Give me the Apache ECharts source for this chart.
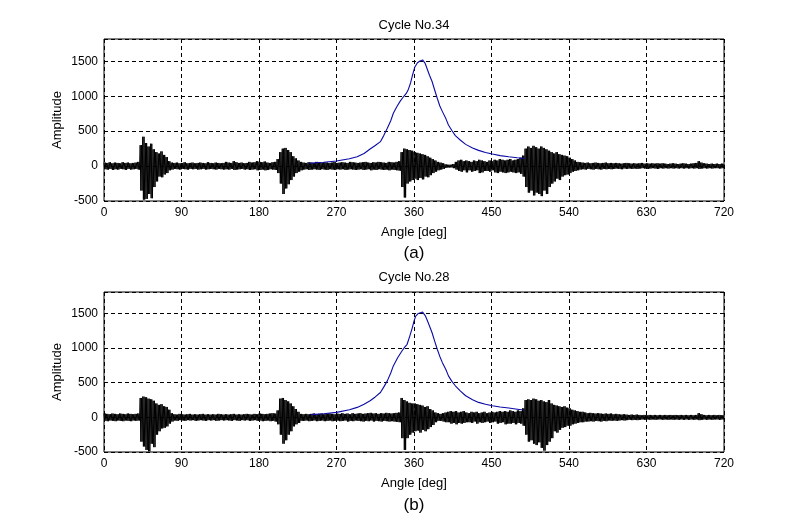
<!DOCTYPE html>
<html>
<head>
<meta charset="utf-8">
<script src="https://cdn.jsdelivr.net/npm/echarts@6/dist/echarts.min.js"></script>
<style>html,body{margin:0;padding:0;background:#fff}#c{width:800px;height:530px}</style>
</head>
<body>
<div id="c"></div>
<script>
// Angle step (deg) between envelope samples of the vibration signal
const STEP = 3;
const xTicks = [0, 90, 180, 270, 360, 450, 540, 630, 720];
const yTicks = [-500, 0, 500, 1000, 1500];
const titles = ['Cycle No.34', 'Cycle No.28'];
const panelLabels = ['(a)', '(b)'];

// Panel (a): vibration signal envelope (upper / lower) every 3 deg from 0 to 720
const upperA = [50,45,55,40,50,45,40,55,45,50,40,45,50,60,
  300,420,330,280,320,240,200,180,210,160,130,70,50,
  45,50,40,45,55,40,45,50,40,45,50,45,40,55,45,40,50,45,40,45,60,50,45,70,55,45,50,40,45,60,50,55,70,60,55,65,50,45,55,60,
  100,200,250,260,230,200,140,110,80,60,
  50,45,55,50,45,60,50,45,55,50,45,50,60,45,50,55,50,45,60,55,50,45,50,55,60,50,45,55,50,60,55,50,45,60,55,50,60,70,
  200,250,240,230,220,200,190,180,170,160,140,120,100,80,60,50,40,25,20,20,30,60,80,90,70,80,70,60,80,70,90,80,70,60,80,70,90,80,100,90,80,90,100,80,90,100,120,150,
  250,280,260,290,270,250,280,260,240,220,200,180,200,170,160,150,140,120,100,80,60,55,
  50,45,50,40,45,50,45,40,45,50,40,45,40,45,40,35,40,45,40,35,40,35,40,45,35,40,35,40,35,40,35,40,35,30,35,40,35,30,35,40,35,30,35,40,45,70,50,40,35,30,35,30,35,30,35,30];
const lowerA = [-45,-50,-40,-55,-45,-50,-40,-45,-55,-40,-50,-45,-40,-50,
  -350,-480,-470,-400,-460,-300,-220,-150,-160,-120,-100,-60,-50,
  -40,-45,-50,-40,-45,-50,-40,-45,-40,-50,-45,-40,-50,-45,-40,-45,-50,-40,-45,-50,-45,-50,-40,-55,-50,-45,-40,-50,-45,-55,-50,-45,-60,-55,-50,-60,-55,-45,-50,-55,
  -100,-250,-400,-320,-260,-200,-150,-100,-80,-60,
  -50,-45,-55,-50,-45,-50,-55,-45,-50,-55,-45,-50,-55,-45,-50,-45,-55,-50,-45,-50,-55,-50,-45,-55,-50,-45,-60,-50,-55,-45,-50,-55,-50,-60,-50,-55,-60,-65,
  -300,-450,-250,-220,-200,-180,-200,-170,-190,-150,-160,-130,-100,-80,-60,-50,-40,-25,-20,-20,-30,-50,-70,-80,-60,-90,-60,-80,-70,-60,-100,-90,-70,-70,-80,-60,-90,-100,-80,-90,-100,-90,-80,-90,-100,-90,-110,-150,
  -300,-380,-350,-420,-380,-400,-430,-350,-400,-300,-250,-220,-180,-200,-150,-130,-120,-100,-80,-70,-60,-50,
  -45,-50,-40,-45,-50,-40,-45,-50,-40,-45,-40,-45,-40,-35,-40,-45,-35,-40,-35,-40,-35,-40,-35,-30,-35,-40,-35,-30,-35,-40,-30,-35,-30,-35,-30,-35,-30,-35,-30,-35,-30,-35,-30,-35,-30,-40,-35,-30,-35,-30,-35,-30,-30,-35,-30,-35];

// Panel (b): vibration signal envelope
const upperB = [55,50,45,55,50,45,55,50,45,55,50,45,50,55,
  280,300,290,270,260,240,200,180,190,160,150,110,60,
  45,40,50,45,40,45,50,40,45,40,45,50,40,45,40,45,40,50,45,40,45,40,45,50,40,45,40,45,50,45,40,50,45,55,50,45,50,55,60,55,
  100,270,280,250,230,200,160,120,80,50,
  45,50,45,50,55,45,50,55,45,50,55,50,45,55,50,60,50,55,45,60,50,55,60,50,55,60,65,55,60,50,60,55,65,60,55,60,65,70,
  280,250,230,210,200,200,190,180,170,150,160,120,100,70,60,50,60,70,80,90,80,90,70,80,90,70,60,80,70,80,60,70,80,60,70,80,70,80,90,80,90,80,100,90,80,100,90,130,
  250,260,250,270,260,240,250,230,220,250,200,180,170,160,150,160,140,130,110,100,90,80,
  80,70,60,65,60,55,60,55,50,55,50,55,45,50,45,40,45,40,35,40,35,40,35,30,35,30,35,30,35,30,35,30,35,30,35,30,35,30,35,30,35,30,35,30,35,60,45,35,30,35,30,35,30,35,30,35];
const lowerB = [-50,-55,-45,-50,-55,-45,-50,-55,-45,-50,-55,-45,-50,-45,
  -350,-420,-470,-490,-380,-430,-250,-200,-160,-150,-130,-90,-60,
  -45,-50,-40,-45,-50,-40,-45,-40,-50,-45,-40,-45,-50,-40,-45,-40,-50,-45,-40,-45,-40,-45,-50,-40,-45,-50,-40,-45,-40,-50,-45,-40,-50,-45,-55,-50,-45,-55,-50,-60,
  -100,-250,-380,-330,-250,-200,-130,-100,-80,-50,
  -50,-45,-55,-50,-45,-55,-50,-45,-55,-50,-45,-55,-50,-45,-55,-50,-45,-60,-50,-55,-45,-50,-55,-60,-50,-55,-45,-60,-50,-55,-60,-50,-55,-60,-55,-60,-65,-70,
  -300,-470,-300,-250,-220,-200,-190,-220,-180,-200,-170,-140,-110,-70,-50,-50,-60,-70,-70,-90,-80,-100,-80,-90,-80,-70,-70,-80,-60,-90,-70,-80,-70,-60,-80,-70,-60,-90,-80,-70,-100,-90,-90,-80,-100,-80,-90,-120,
  -250,-350,-330,-380,-400,-360,-440,-480,-400,-350,-300,-200,-220,-180,-150,-140,-120,-120,-100,-90,-80,-70,
  -70,-60,-60,-55,-60,-50,-55,-60,-50,-55,-45,-50,-45,-50,-45,-40,-45,-40,-35,-40,-35,-40,-35,-30,-35,-30,-35,-30,-35,-30,-30,-35,-30,-35,-30,-35,-30,-35,-30,-35,-30,-35,-30,-35,-30,-40,-35,-30,-35,-30,-35,-30,-30,-35,-30,-35];

// Blue (pressure-like) curves: angle / value
const curveAngleA = [238,255,270,285,294,302,309,315,321,325,329,333,336,340,344,348,351,353,356,358,361,364,367,370,373,375,378,381,384,387,390,393,397,400,404,408,414,420,428,435,443,451,460,470,480,488];
const curveA =      [40,55,72,105,134,180,245,295,350,440,541,650,756,850,930,996,1040,1085,1190,1290,1420,1480,1505,1520,1470,1402,1300,1211,1090,971,860,780,680,589,510,436,370,311,260,225,195,172,150,134,120,110];
const curveAngleB = [240,255,270,285,294,302,309,315,321,325,329,333,336,341,346,349,352,355,358,360,362,365,367,370,373,375,378,381,384,387,390,393,397,400,404,408,414,420,428,435,443,451,460,470,480,487];
const curveB =      [39,52,72,110,144,190,240,295,359,440,527,640,743,860,958,1010,1055,1170,1293,1390,1461,1500,1519,1520,1470,1414,1320,1222,1100,983,880,790,690,599,520,456,380,312,255,216,190,168,150,135,118,106];

// Each 3-degree bin is drawn as two up/down strokes between its read upper and lower values
function zig(up, lo) {
  const pts = [];
  const q = STEP / 4;
  for (let i = 0; i < up.length; i++) {
    const a = i * STEP;
    pts.push([a, up[i]]);
    if (a + q > 720) break;
    pts.push([a + q, lo[i]]);
    pts.push([a + 2 * q, up[i]]);
    pts.push([a + 3 * q, lo[i]]);
  }
  return pts;
}
function pairs(xs, ys) { return xs.map((x, i) => [x, ys[i]]); }

const FONT = '"Liberation Sans", Arial, sans-serif';
const grids = [
  { left: 104, top: 39, width: 620, height: 162 },
  { left: 104, top: 292, width: 620, height: 160 }
];

function xAxisCfg(i) {
  return {
    type: 'value', gridIndex: i, min: xTicks[0], max: xTicks[xTicks.length - 1], interval: 90,
    name: 'Angle [deg]', nameLocation: 'middle', nameGap: 25, nameMoveOverlap: false,
    nameTextStyle: { color: '#000', fontSize: 13, fontFamily: FONT },
    axisLine: { show: false }, axisTick: { show: false },
    axisLabel: { color: '#000', fontSize: 12, fontFamily: FONT, margin: 6, formatter: v => String(v) },
    splitLine: { show: true, lineStyle: { color: '#000', width: 1, type: [4, 3] } }
  };
}
function yAxisCfg(i, max) {
  return {
    type: 'value', gridIndex: i, min: yTicks[0], max: max, interval: 500,
    name: 'Amplitude', nameLocation: 'middle', nameGap: 40, nameMoveOverlap: false,
    nameTextStyle: { color: '#000', fontSize: 13, fontFamily: FONT },
    axisLine: { show: false }, axisTick: { show: false },
    axisLabel: { color: '#000', fontSize: 12, fontFamily: FONT, margin: 6, showMaxLabel: false, formatter: v => String(v) },
    splitLine: { show: true, lineStyle: { color: '#000', width: 1, type: [4, 3] } }
  };
}

const chart = echarts.init(document.getElementById('c'), null, { renderer: 'canvas' });
const textStyle = (t, x, y, size) => ({
  type: 'text', x: x, y: y, z: 10,
  style: { text: t, fill: '#000', font: size + 'px ' + FONT, align: 'center', verticalAlign: 'middle', textAlign: 'center', textVerticalAlign: 'middle' }
});
chart.setOption({
  animation: false,
  backgroundColor: '#fff',
  grid: grids.map(g => Object.assign({ show: true, borderColor: '#000', borderWidth: 1, backgroundColor: 'transparent' }, g)),
  xAxis: [xAxisCfg(0), xAxisCfg(1)],
  yAxis: [yAxisCfg(0, 1820), yAxisCfg(1, 1810)],
  graphic: [
    textStyle(titles[0], 414, 25, 13),
    textStyle(panelLabels[0], 414, 253, 17),
    textStyle(titles[1], 414, 277, 13),
    textStyle(panelLabels[1], 414, 505, 17)
  ],
  series: [
    { type: 'line', xAxisIndex: 0, yAxisIndex: 0, data: zig(upperA, lowerA), showSymbol: false, symbol: 'none', lineStyle: { color: '#000', width: 1 }, z: 2 },
    { type: 'line', xAxisIndex: 0, yAxisIndex: 0, data: pairs(curveAngleA, curveA), showSymbol: false, symbol: 'none', lineStyle: { color: '#0a0aa5', width: 1.1 }, z: 3 },
    { type: 'line', xAxisIndex: 1, yAxisIndex: 1, data: zig(upperB, lowerB), showSymbol: false, symbol: 'none', lineStyle: { color: '#000', width: 1 }, z: 2 },
    { type: 'line', xAxisIndex: 1, yAxisIndex: 1, data: pairs(curveAngleB, curveB), showSymbol: false, symbol: 'none', lineStyle: { color: '#0a0aa5', width: 1.1 }, z: 3 }
  ]
});
</script>
</body>
</html>
